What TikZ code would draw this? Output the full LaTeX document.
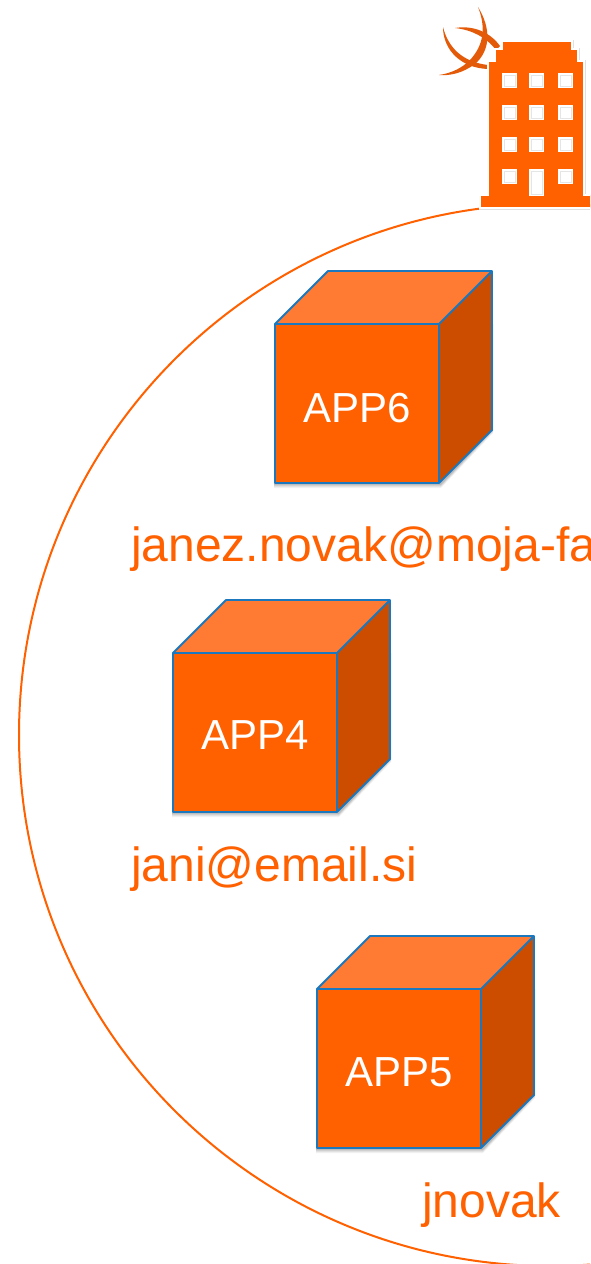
\documentclass[tikz,border=0pt]{standalone}
\usepackage{fontspec}
\setmainfont{Liberation Sans}
\definecolor{org}{HTML}{FF6000}
\definecolor{orgtop}{HTML}{FF7B33}
\definecolor{orgside}{HTML}{CC4C00}
\definecolor{edgeblue}{HTML}{1C78BE}
\definecolor{logoorg}{HTML}{E35A08}
\tikzset{
  labeltext/.style={text=org,font=\fontsize{48}{48}\selectfont,anchor=base west,inner sep=0pt},
  apptext/.style={text=white,font=\fontsize{42}{42}\selectfont,anchor=base,inner sep=0pt},
  cubeedge/.style={draw=edgeblue,line width=1.9pt,line join=round},
  window/.style={fill=white,draw=white,line width=1pt},
  windowin/.style={draw=black!10,line width=0.6pt},
  pics/appcube/.style={code={
    \foreach \o/\s in {0.05/5,0.06/4,0.08/3,0.10/2}{
      \fill[black,opacity=\o] (-1,\s) -- (166,\s) -- (218,0) -- (218,106+\s-2) -- (166,159+\s) -- (-1,159+\s) -- cycle;
    }
    \fill[orgtop] (0,0) -- (53,-53) -- (217,-53) -- (164,0) -- cycle;
    \fill[orgside] (164,0) -- (217,-53) -- (217,106) -- (164,159) -- cycle;
    \fill[org] (0,0) rectangle (164,159);
    \draw[cubeedge] (0,0) rectangle (164,159);
    \draw[cubeedge] (0,0) -- (53,-53) -- (217,-53) -- (217,106) -- (164,159);
    \draw[cubeedge] (164,0) -- (217,-53);
  }}
}
\newcommand{\bldpath}{(502,41) -- (572,41) -- (572,49) -- (578,49) -- (578,61) -- (584,61) -- (584,195) -- (592,195) -- (592,208) -- (480,208) -- (480,195) -- (488,195) -- (488,61) -- (495,61) -- (495,49) -- (502,49) -- cycle}
\begin{document}
\begin{tikzpicture}[x=1pt,y=-1pt]
\useasboundingbox (0,0) rectangle (590,1264);
\clip (0,0) rectangle (590,1264);
\draw[org,line width=2pt] (550,735) circle[radius=531];
% logo
\fill[logoorg] (478,7) .. controls (491,28) and (491,50) .. (475,64) .. controls (463,73) and (450,76) .. (439,75) .. controls (452,73) and (462,68) .. (470,60) .. controls (484,45) and (486,27) .. (478,7) -- cycle;
\fill[logoorg] (443,27) .. controls (448,47) and (462,62) .. (488,65) -- (488,69) .. controls (461,68) and (443,50) .. (443,27) -- cycle;
\fill[logoorg] (455,28) .. controls (473,25) and (490,32) .. (500,46) -- (496,50) .. controls (486,37) and (472,30) .. (455,28) -- cycle;
% building
\draw[black!12,line width=3pt,line join=miter] \bldpath;
\filldraw[fill=org,draw=white,line width=1.6pt] \bldpath;
\foreach \y in {73,105,137}{
  \foreach \x in {502,529,558}{
    \draw[window] (\x,\y) rectangle (\x+14,\y+14);
    \draw[windowin] (\x+2,\y+2) rectangle (\x+13,\y+13);
  }
}
\draw[window] (502,169) rectangle (516,183);
\draw[windowin] (504,171) rectangle (515,182);
\draw[window] (529,169) rectangle (543,195);
\draw[windowin] (531,171) rectangle (542,194);
\draw[window] (558,169) rectangle (572,183);
\draw[windowin] (560,171) rectangle (571,182);
% cubes
\pic at (275,324) {appcube};
\node[apptext] (app6) at (357,422) {APP6};
\node[labeltext] (mail1) at (131,561) {janez.novak@moja-fa};
\pic at (173,653) {appcube};
\node[apptext] (app4) at (255,749) {APP4};
\node[labeltext] (mail2) at (131,881) {jani@email.si};
\pic at (317,989) {appcube};
\node[apptext] (app5) at (399,1086) {APP5};
\node[labeltext] (mail3) at (422,1217) {jnovak};
\end{tikzpicture}
\end{document}
